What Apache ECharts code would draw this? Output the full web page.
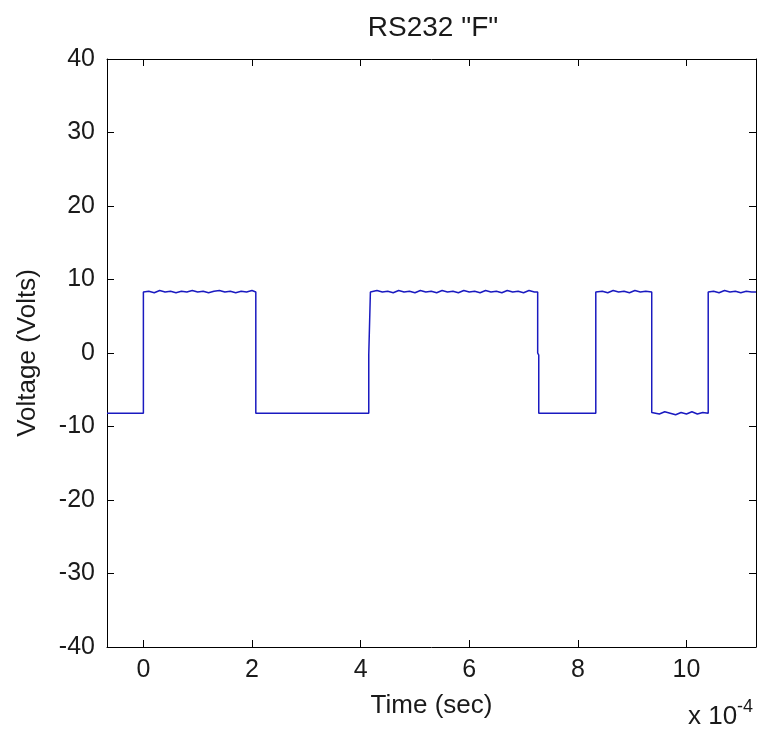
<!DOCTYPE html>
<html>
<head>
<meta charset="utf-8">
<script src="https://cdn.jsdelivr.net/npm/echarts@6/dist/echarts.min.js"></script>
<style>
  html, body { margin: 0; padding: 0; background: #fff; }
  #chart { width: 764px; height: 738px; }
</style>
</head>
<body>
<div id="chart"></div>
<script>
// time in units of 1e-4 s, voltage in volts
const timeVals = [
  -0.67, 0.00, 0.00, 0.10, 0.20, 0.30, 0.40, 0.50, 0.60, 0.70, 0.80, 0.90, 1.00,
  1.10, 1.20, 1.30, 1.40, 1.50, 1.60, 1.70, 1.80, 1.90, 2.00, 2.07, 2.07,
  3.70, 3.72, 3.74, 4.15, 4.15, 4.18, 4.18,
  4.30, 4.40, 4.50, 4.60, 4.70, 4.80, 4.90, 5.00, 5.10, 5.20, 5.30, 5.40, 5.50,
  5.60, 5.70, 5.80, 5.90, 6.00, 6.10, 6.20, 6.30, 6.40, 6.50, 6.60, 6.70, 6.80,
  6.90, 7.00, 7.10, 7.20, 7.26, 7.26, 7.28, 7.28,
  8.33, 8.33, 8.45, 8.55, 8.65, 8.75, 8.85, 8.95, 9.05, 9.15, 9.25, 9.36, 9.36,
  9.50, 9.60, 9.70, 9.80, 9.90, 10.00, 10.10, 10.20, 10.30, 10.40, 10.40,
  10.50, 10.60, 10.70, 10.80, 10.90, 11.00, 11.10, 11.20, 11.28
];
const voltVals = [
  -8.2, -8.2, 8.3, 8.4, 8.2, 8.5, 8.3, 8.4, 8.2, 8.4, 8.3, 8.5, 8.3,
  8.4, 8.2, 8.4, 8.5, 8.3, 8.4, 8.2, 8.4, 8.3, 8.5, 8.3, -8.2,
  -8.2, -8.0, -8.2, -8.2, -0.2, 0.0, 8.3,
  8.5, 8.3, 8.4, 8.2, 8.5, 8.3, 8.4, 8.2, 8.5, 8.3, 8.4, 8.2, 8.5,
  8.3, 8.4, 8.2, 8.5, 8.3, 8.4, 8.2, 8.5, 8.3, 8.4, 8.2, 8.5, 8.3,
  8.4, 8.2, 8.5, 8.3, 8.3, 0.0, -0.3, -8.2,
  -8.2, 8.3, 8.4, 8.2, 8.5, 8.3, 8.4, 8.2, 8.5, 8.3, 8.4, 8.3, -8.1,
  -8.3, -8.0, -8.2, -8.4, -8.1, -8.3, -8.0, -8.3, -8.1, -8.2, 8.3,
  8.4, 8.2, 8.5, 8.3, 8.4, 8.2, 8.4, 8.3, 8.3
];
const xTicks = [0, 2, 4, 6, 8, 10];

const chart = echarts.init(document.getElementById('chart'));
const font = 'Liberation Sans, Arial, sans-serif';
const ink = '#1a1a1a';

const boxAxis = {
  axisLine: { show: true, onZero: false, lineStyle: { color: '#000', width: 1 } },
  splitLine: { show: false }
};

chart.setOption({
  animation: false,
  title: {
    text: 'RS232 "F"',
    left: 428, top: 9, textAlign: 'center',
    textStyle: { fontFamily: font, fontSize: 28, fontWeight: 'normal', color: ink }
  },
  grid: { left: 107, right: 8, top: 59, bottom: 91 },
  xAxis: [
    Object.assign({}, boxAxis, {
      type: 'value', min: -0.67, max: 11.28, position: 'bottom',
      name: 'Time (sec)', nameLocation: 'middle', nameGap: 46,
      nameTextStyle: { fontFamily: font, fontSize: 26, color: ink },
      axisTick: { show: true, inside: true, length: 7, customValues: xTicks, lineStyle: { color: '#000' } },
      axisLabel: { customValues: xTicks, fontFamily: font, fontSize: 25, color: ink, margin: 11 }
    }),
    Object.assign({}, boxAxis, {
      type: 'value', min: -0.67, max: 11.28, position: 'top',
      axisTick: { show: true, inside: true, length: 7, customValues: xTicks, lineStyle: { color: '#000' } },
      axisLabel: { show: false }
    })
  ],
  yAxis: [
    Object.assign({}, boxAxis, {
      type: 'value', min: -40, max: 40, interval: 10, position: 'left',
      name: 'Voltage (Volts)', nameLocation: 'middle', nameGap: 66,
      nameTextStyle: { fontFamily: font, fontSize: 26, color: ink },
      axisTick: { show: true, inside: true, length: 7, lineStyle: { color: '#000' } },
      axisLabel: { fontFamily: font, fontSize: 25, color: ink, margin: 12 }
    }),
    Object.assign({}, boxAxis, {
      type: 'value', min: -40, max: 40, interval: 10, position: 'right',
      axisTick: { show: true, inside: true, length: 7, lineStyle: { color: '#000' } },
      axisLabel: { show: false }
    })
  ],
  graphic: [{
    type: 'text', left: 688, top: 704,
    style: { text: 'x 10', font: '26px ' + font, fill: ink }
  }, {
    type: 'text', left: 737, top: 698,
    style: { text: '-4', font: '18px ' + font, fill: ink }
  }],
  series: [{
    type: 'line',
    xAxisIndex: 0, yAxisIndex: 0,
    data: timeVals.map((t, i) => [t, voltVals[i]]),
    showSymbol: false,
    lineStyle: { color: '#1a1ac0', width: 1.5 }
  }]
});
</script>
</body>
</html>
